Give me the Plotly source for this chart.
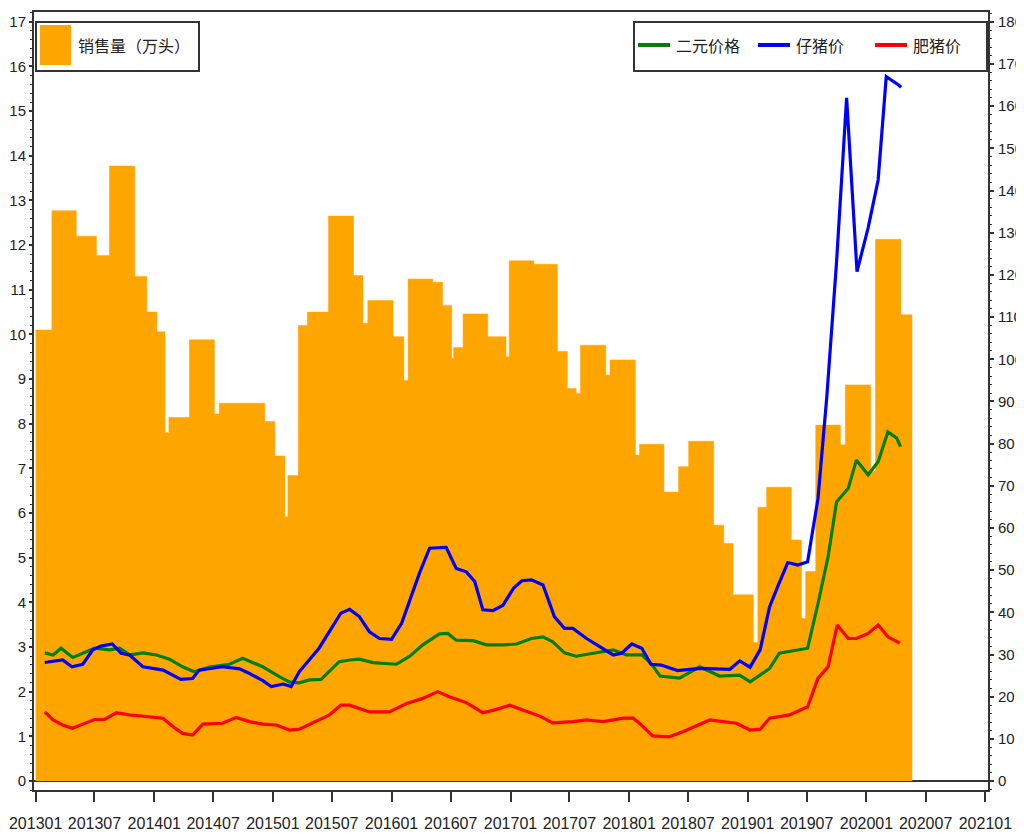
import plotly.graph_objects as go

# ---- data ----
sales_dates = ["2013-01-01","2013-02-20","2013-05-06","2013-07-07","2013-08-16","2013-11-02","2013-12-09",
               "2014-01-09","2014-02-03","2014-02-15","2014-04-19","2014-07-05","2014-07-20","2014-12-07",
               "2015-01-07","2015-02-07","2015-02-16","2015-03-20","2015-04-17","2015-06-21","2015-09-06",
               "2015-10-05","2015-10-20","2016-01-06","2016-02-08","2016-02-21","2016-05-07","2016-06-06",
               "2016-07-04","2016-07-10","2016-08-08","2016-10-23","2016-12-18","2016-12-28","2017-03-14",
               "2017-05-25","2017-06-25","2017-07-22","2017-08-04","2017-10-21","2017-11-03","2018-01-20",
               "2018-02-02","2018-04-18","2018-06-02","2018-07-03","2018-09-18","2018-10-19","2018-11-17",
               "2019-01-18","2019-02-01","2019-02-28","2019-05-15","2019-06-15","2019-06-28","2019-07-29",
               "2019-10-13","2019-10-28","2020-01-14","2020-01-29","2020-04-16","2020-05-21"]
sales = [10.1, 12.77, 12.2, 11.77, 13.77, 11.3, 10.5,
         10.06, 7.8, 8.14, 9.88, 8.22, 8.46, 8.05,
         7.28, 5.92, 6.84, 10.2, 10.5, 12.65, 11.32,
         10.25, 10.76, 9.95, 8.97, 11.24, 11.17, 10.65,
         9.47, 9.71, 10.46, 9.95, 9.5, 11.65, 11.57,
         9.62, 8.79, 8.68, 9.76, 9.09, 9.43, 7.3,
         7.54, 6.47, 7.04, 7.61, 5.73, 5.32, 4.17,
         3.1, 6.13, 6.58, 5.4, 3.64, 4.69, 7.97,
         7.53, 8.87, 6.93, 12.13, 10.44, 10.44]

piglet_dates = ["2013-01-29","2013-03-25","2013-04-23","2013-05-26","2013-06-26","2013-07-21","2013-08-25",
                "2013-09-21","2013-10-17","2013-11-27","2014-01-28","2014-03-24","2014-04-29","2014-05-19",
                "2014-07-30","2014-09-20","2014-10-21","2014-12-01","2014-12-27","2015-02-02","2015-02-26",
                "2015-03-23","2015-05-23","2015-07-29","2015-08-25","2015-09-24","2015-10-25","2015-11-25",
                "2016-01-01","2016-02-01","2016-03-27","2016-04-27","2016-06-17","2016-07-18","2016-08-18",
                "2016-09-13","2016-10-08","2016-11-08","2016-12-09","2017-01-10","2017-02-05","2017-03-06",
                "2017-04-11","2017-05-16","2017-06-16","2017-07-12","2017-08-23","2017-09-23","2017-11-13",
                "2017-12-09","2018-01-09","2018-02-09","2018-03-09","2018-04-09","2018-05-30","2018-08-06",
                "2018-11-07","2018-12-07","2019-01-08","2019-02-08","2019-03-09","2019-04-03","2019-05-04",
                "2019-06-04","2019-07-04","2019-08-05","2019-09-01","2019-10-01","2019-11-01","2019-12-03",
                "2020-01-06","2020-02-06","2020-03-02","2020-04-08","2020-04-17"]
piglet = [28.1, 28.7, 27.1, 27.7, 31.1, 32.0, 32.5,
          30.3, 29.9, 27.1, 26.3, 24.1, 24.3, 26.3,
          27.1, 26.6, 25.5, 23.8, 22.4, 23.0, 22.4,
          25.9, 31.5, 39.8, 40.7, 39.0, 35.4, 33.8,
          33.6, 37.4, 49.3, 55.2, 55.4, 50.4, 49.6,
          47.3, 40.6, 40.4, 41.7, 45.7, 47.5, 47.7,
          46.5, 39.0, 36.2, 36.2, 33.8, 32.3, 29.9,
          30.3, 32.5, 31.5, 27.7, 27.5, 26.2, 26.7,
          26.5, 28.5, 27.0, 31.1, 41.3, 46.1, 51.8,
          51.2, 52.0, 67.0, 91.0, 123.0, 162.0, 120.8,
          131.1, 142.5, 167.0, 165.1, 164.5]

sow_dates = ["2013-01-29","2013-02-24","2013-03-20","2013-04-25","2013-05-26","2013-07-01","2013-08-16",
             "2013-09-16","2013-10-17","2013-11-27","2014-01-08","2014-02-17","2014-03-29","2014-05-04",
             "2014-06-20","2014-08-20","2014-09-30","2014-12-01","2015-01-22","2015-02-21","2015-03-23",
             "2015-04-23","2015-05-29","2015-07-24","2015-08-25","2015-09-24","2015-11-05","2016-01-16",
             "2016-02-26","2016-04-06","2016-05-27","2016-06-22","2016-07-18","2016-09-08","2016-10-19",
             "2016-12-09","2017-01-20","2017-03-06","2017-04-11","2017-05-11","2017-06-16","2017-07-22",
             "2017-09-12","2017-11-13","2017-12-24","2018-02-09","2018-03-09","2018-04-06","2018-06-05",
             "2018-08-06","2018-10-06","2018-12-07","2019-01-08","2019-02-08","2019-03-09","2019-04-08",
             "2019-05-09","2019-07-04","2019-08-05","2019-09-05","2019-10-01","2019-11-06","2019-12-01",
             "2020-01-06","2020-02-06","2020-03-07","2020-04-03","2020-04-15"]
sow = [30.4, 29.9, 31.5, 29.3, 30.3, 31.5, 31.1,
       31.5, 29.9, 30.4, 29.9, 28.9, 27.1, 25.9,
       27.0, 27.7, 29.1, 27.1, 24.7, 23.5, 23.3,
       24.0, 24.1, 28.3, 28.7, 28.9, 28.1, 27.7,
       29.6, 32.3, 34.9, 35.0, 33.4, 33.3, 32.3,
       32.3, 32.5, 33.8, 34.2, 33.0, 30.4, 29.6,
       30.3, 31.1, 29.9, 29.9, 27.9, 24.9, 24.4,
       27.1, 24.9, 25.1, 23.5, 25.1, 26.7, 30.3,
       30.7, 31.5, 42.1, 53.2, 66.2, 69.4, 76.1,
       72.6, 75.7, 82.8, 81.3, 79.3]

hog_dates = ["2013-01-29","2013-02-24","2013-03-25","2013-04-25","2013-05-26","2013-07-01","2013-08-01",
             "2013-09-06","2013-10-17","2013-11-27","2014-01-28","2014-02-26","2014-03-29","2014-04-29",
             "2014-05-30","2014-07-30","2014-09-10","2014-10-21","2014-12-01","2015-01-12","2015-02-21",
             "2015-03-23","2015-05-13","2015-06-24","2015-07-29","2015-08-25","2015-10-25","2015-12-25",
             "2016-02-16","2016-04-06","2016-05-22","2016-06-27","2016-08-18","2016-10-08","2016-11-19",
             "2016-12-30","2017-02-10","2017-04-01","2017-05-11","2017-07-12","2017-08-23","2017-10-13",
             "2017-12-14","2018-01-14","2018-02-13","2018-03-14","2018-05-04","2018-06-15","2018-09-06",
             "2018-11-27","2019-01-08","2019-02-08","2019-03-09","2019-05-09","2019-07-04","2019-08-05",
             "2019-09-05","2019-10-03","2019-11-06","2019-12-01","2020-01-06","2020-02-06","2020-03-07",
             "2020-04-13"]
hog = [16.4, 14.5, 13.3, 12.5, 13.5, 14.6, 14.6,
       16.2, 15.7, 15.4, 14.9, 13.0, 11.3, 10.9,
       13.5, 13.7, 15.1, 14.1, 13.5, 13.3, 12.1,
       12.3, 14.1, 15.7, 18.0, 18.0, 16.4, 16.4,
       18.4, 19.6, 21.2, 20.0, 18.6, 16.2, 17.0,
       18.0, 16.8, 15.4, 13.8, 14.1, 14.5, 14.1,
       14.9, 14.9, 12.9, 10.7, 10.5, 11.7, 14.5,
       13.7, 12.1, 12.3, 14.9, 15.7, 17.6, 24.4,
       27.1, 37.0, 33.8, 33.8, 35.0, 37.0, 34.2,
       32.7]

tick_dates = ["2013-01-01","2013-07-01","2014-01-01","2014-07-01","2015-01-01","2015-07-01",
              "2016-01-01","2016-07-01","2017-01-01","2017-07-01","2018-01-01","2018-07-01",
              "2019-01-01","2019-07-01","2020-01-01","2020-07-01","2021-01-01"]
tick_text = ["201301","201307","201401","201407","201501","201507","201601","201607","201701",
             "201707","201801","201807","201901","201907","202001","202007","202101"]

sales_name = "销售量（万头）"
line_names = ["二元价格", "仔猪价", "肥猪价"]
line_colors = ["#008000", "#0000FF", "#FF0000"]

NUM_FONT = "Liberation Sans, Arial, sans-serif"
CJK_FONT = "Noto Sans CJK SC, sans-serif"
AX = "#333333"

fig = go.Figure()
fig.add_trace(go.Scatter(
    x=sales_dates, y=sales, name=sales_name, mode="lines",
    line=dict(shape="hv", width=0.5, color="#FFA500"),
    fill="tozeroy", fillcolor="#FFA500", showlegend=False))
for xs, ys, nm, col in [(sow_dates, sow, line_names[0], line_colors[0]),
                        (piglet_dates, piglet, line_names[1], line_colors[1]),
                        (hog_dates, hog, line_names[2], line_colors[2])]:
    fig.add_trace(go.Scatter(x=xs, y=ys, name=nm, mode="lines",
                             line=dict(color=col, width=3.2), yaxis="y2", showlegend=False))

left_top = 17.22
left_bot = -0.2
ratio = 180 / 17

# The page body adds an 8px offset, so the figure is 8px smaller than the window.
OFF = 8
W, H = 1024 - OFF, 838 - OFF
# plot-area edges in window pixels
L, R, T, B = 34, 988, 12, 790
def px(xp):
    return (xp - L) / (R - L)
def py(yp):
    return (B - yp) / (B - T)

shapes = []
annotations = []
# legend 1: sales (orange block)
shapes.append(dict(type="rect", xref="paper", yref="paper", x0=px(36), x1=px(199), y0=py(71), y1=py(22),
                   line=dict(color=AX, width=2), fillcolor="white", layer="above"))
shapes.append(dict(type="rect", xref="paper", yref="paper", x0=px(40), x1=px(71), y0=py(65), y1=py(25),
                   line=dict(width=0), fillcolor="#FFA500", layer="above"))
annotations.append(dict(xref="paper", yref="paper", x=px(76), y=py(45), xanchor="left", yanchor="middle",
                        text=sales_name, showarrow=False,
                        font=dict(family=CJK_FONT, size=16, color="#222222")))
# legend 2: the three price lines
shapes.append(dict(type="rect", xref="paper", yref="paper", x0=px(634), x1=px(987), y0=py(71), y1=py(22),
                   line=dict(color=AX, width=2), fillcolor="white", layer="above"))
for sx, nm, col in zip([638, 758, 875], line_names, line_colors):
    shapes.append(dict(type="line", xref="paper", yref="paper", x0=px(sx), x1=px(sx + 32),
                       y0=py(45), y1=py(45), line=dict(color=col, width=4), layer="above"))
    annotations.append(dict(xref="paper", yref="paper", x=px(sx + 36), y=py(45), xanchor="left",
                            yanchor="middle", text=nm, showarrow=False,
                            font=dict(family=CJK_FONT, size=16, color="#222222")))

fig.update_layout(
    width=W, height=H,
    margin=dict(l=L - OFF, r=1024 - R, t=T - OFF, b=838 - B),
    paper_bgcolor="white", plot_bgcolor="white",
    font=dict(family=NUM_FONT, size=16, color="#222222"),
    showlegend=False,
    xaxis=dict(type="date", range=["2012-12-27", "2021-01-09"], automargin=False,
               tickmode="array", tickvals=tick_dates, ticktext=tick_text, tickangle=0,
               showgrid=False, zeroline=False, showline=True, linecolor=AX, linewidth=2,
               mirror=True, ticks="outside", ticklen=10, tickwidth=1.5, tickcolor=AX,
               ticklabelstandoff=8, tickfont=dict(size=16)),
    yaxis=dict(range=[left_bot, left_top], dtick=1, tick0=0, automargin=False,
               showgrid=False, showline=True, linecolor=AX, linewidth=2,
               zeroline=True, zerolinecolor=AX, zerolinewidth=1.5,
               ticks="outside", ticklen=3, tickwidth=1.5, tickcolor=AX,
               minor=dict(dtick=0.2, ticks="outside", ticklen=2, tickcolor=AX, tickwidth=1),
               ticklabelstandoff=0, tickfont=dict(size=15)),
    yaxis2=dict(range=[left_bot * ratio, left_top * ratio], dtick=10, tick0=0, automargin=False,
                overlaying="y", side="right", showgrid=False, zeroline=False,
                showline=True, linecolor=AX, linewidth=2,
                ticks="outside", ticklen=4, tickwidth=1.5, tickcolor=AX,
                minor=dict(dtick=2, ticks="outside", ticklen=2, tickcolor=AX, tickwidth=1),
                ticklabelstandoff=1, tickfont=dict(size=15)),
    shapes=shapes,
    annotations=annotations,
)

fig.write_html("out.html")
